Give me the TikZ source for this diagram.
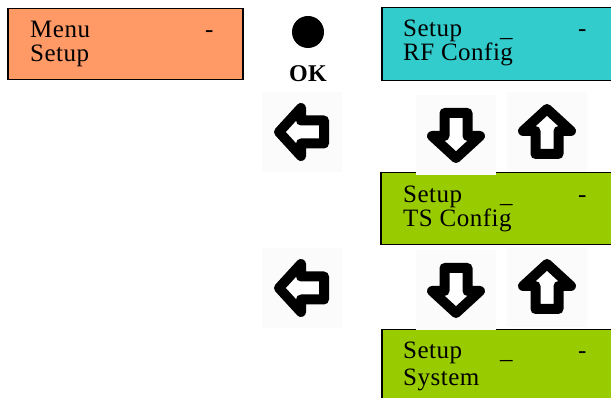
\documentclass[tikz,border=0pt]{standalone}
\usepackage{fontspec}
\setmainfont[LetterSpace=2]{Liberation Serif}
\usetikzlibrary{positioning}
\definecolor{menuorange}{RGB}{255,153,102}
\definecolor{rfteal}{RGB}{51,204,204}
\definecolor{tsgreen}{RGB}{153,204,0}

\begin{document}
\begin{tikzpicture}[x=1pt,y=1pt,
					lcd/.style={draw,line width=1.5pt,anchor=north west,inner sep=0pt},
					txt/.style={anchor=base west,inner sep=0pt,font=\fontsize{25}{25}\selectfont},
					keyarrow/.pic={
					  \fill[black!1.5] (-40,-40) rectangle (40,40);
					  \draw[line width=10pt,line join=round,fill=white]
					    (-23,0) -- (-1,24) -- (-1,11.5) -- (22,11.5) -- (22,-11.5) -- (-1,-11.5) -- (-1,-24) -- cycle;
					}]
  \useasboundingbox (0,0) rectangle (611,-398);

  % display boxes
  \node[lcd,fill=menuorange,minimum width=235pt,minimum height=71pt] (menu) at (7,-8) {};
  \node[lcd,fill=rfteal,minimum width=240pt,minimum height=73pt] (rf) at (381,-7) {};
  \node[lcd,fill=tsgreen,minimum width=240pt,minimum height=72pt] (ts) at (380,-172) {};
  \node[lcd,fill=tsgreen,minimum width=240pt,minimum height=80pt] (sys) at (381,-329) {};

  \node[txt] (menu1) at ([shift={(23,-30)}]menu.north west) {Menu};
  \node[txt] (menu2) at ([shift={(23,-54)}]menu.north west) {Setup};
  \node[txt] (menu3) at ([shift={(198,-30)}]menu.north west) {-};

  \node[txt] (rf1) at ([shift={(22,-30)}]rf.north west) {Setup};
  \node[txt] (rf2) at ([shift={(22,-54)}]rf.north west) {RF Config};
  \node[txt] (rf3) at ([shift={(119,-30)}]rf.north west) {\_};
  \node[txt] (rf4) at ([shift={(197,-30)}]rf.north west) {-};

  \node[txt] (ts1) at ([shift={(23,-31)}]ts.north west) {Setup};
  \node[txt] (ts2) at ([shift={(23,-55)}]ts.north west) {TS Config};
  \node[txt] (ts3) at ([shift={(120,-31)}]ts.north west) {\_};
  \node[txt] (ts4) at ([shift={(198,-31)}]ts.north west) {-};

  \node[txt] (sys1) at ([shift={(22,-30)}]sys.north west) {Setup};
  \node[txt] (sys2) at ([shift={(22,-56)}]sys.north west) {System};
  \node[txt] (sys3) at ([shift={(119,-30)}]sys.north west) {\_};
  \node[txt] (sys4) at ([shift={(197,-30)}]sys.north west) {-};

  % keys
  \node[circle,fill,minimum size=32pt,inner sep=0pt] (okdot) at (308,-32) {};
  \node[anchor=base,inner sep=0pt,font=\fontsize{24}{24}\selectfont\bfseries] (ok) at (308,-82) {OK};

  \pic (back1) at (302,-132) {keyarrow};
  \pic[rotate=90] (down1) at (456,-135) {keyarrow};
  \pic[rotate=-90] (up1) at (547,-132) {keyarrow};

  \pic (back2) at (302,-288) {keyarrow};
  \pic[rotate=90] (down2) at (456,-290) {keyarrow};
  \pic[rotate=-90] (up2) at (547,-287) {keyarrow};
\end{tikzpicture}
\end{document}
